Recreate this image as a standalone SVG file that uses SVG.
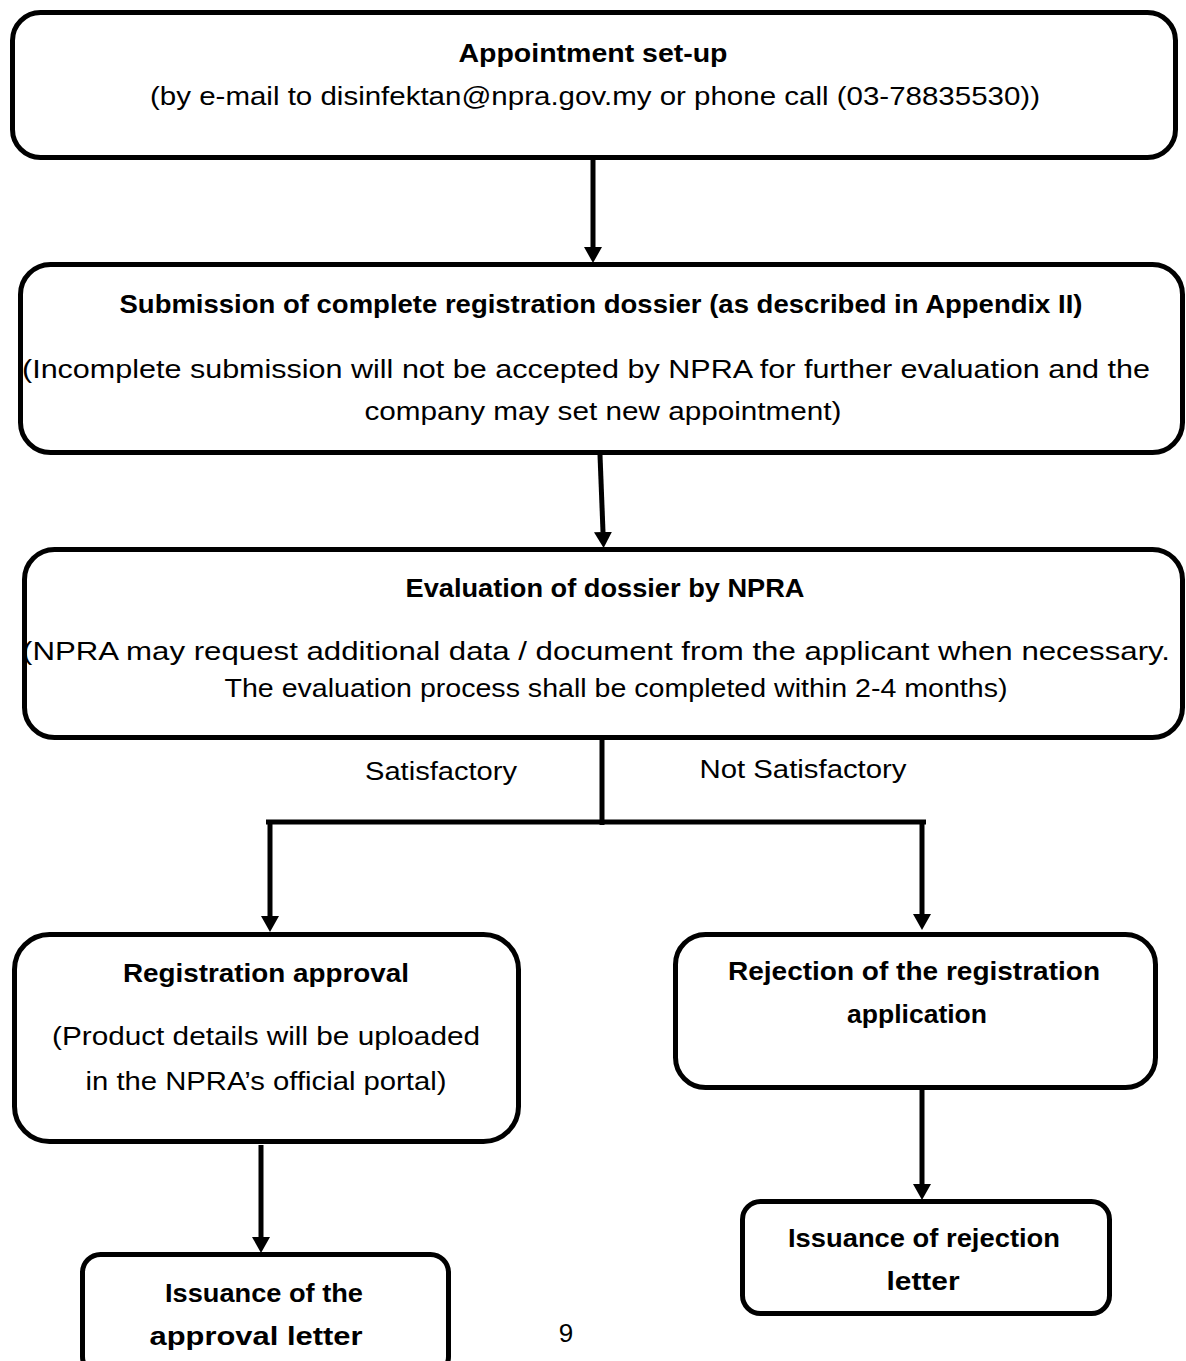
<svg xmlns="http://www.w3.org/2000/svg" width="1186" height="1361" viewBox="0 0 1186 1361">
<defs>
<style>
.box{fill:#fff;stroke:#000;stroke-width:5}
.con{fill:none;stroke:#000;stroke-width:5}
text{font-family:"Liberation Sans",Arial,sans-serif;font-size:26px;fill:#000;text-anchor:middle}
.b{font-weight:bold}
</style>
<marker id="ah" markerUnits="userSpaceOnUse" markerWidth="16" markerHeight="18" refX="0" refY="9" orient="auto">
<path d="M0,0 L16,9 L0,18 Z" fill="#000"/>
</marker>
</defs>
<rect width="1186" height="1361" fill="#fff"/>
<g id="connectors">
<line class="con" x1="593" y1="160" x2="593" y2="247" marker-end="url(#ah)"/>
<line class="con" x1="600" y1="455" x2="603" y2="532" marker-end="url(#ah)"/>
<line class="con" x1="602" y1="740" x2="602" y2="825"/>
<line class="con" x1="266" y1="822" x2="926" y2="822"/>
<line class="con" x1="270" y1="820" x2="270" y2="916" marker-end="url(#ah)"/>
<line class="con" x1="922" y1="820" x2="922" y2="914" marker-end="url(#ah)"/>
<line class="con" x1="261" y1="1145" x2="261" y2="1237" marker-end="url(#ah)"/>
<line class="con" x1="922" y1="1090" x2="922" y2="1184" marker-end="url(#ah)"/>
<text x="441" y="780" textLength="152" lengthAdjust="spacingAndGlyphs">Satisfactory</text>
<text x="803" y="778" textLength="207" lengthAdjust="spacingAndGlyphs">Not Satisfactory</text>
</g>
<g id="n1">
<rect class="box" x="12.5" y="12.5" width="1163" height="145" rx="28"/>
<text class="b" x="593" y="62" textLength="269" lengthAdjust="spacingAndGlyphs">Appointment set-up</text>
<text x="595" y="105" textLength="890" lengthAdjust="spacingAndGlyphs">(by e-mail to disinfektan@npra.gov.my or phone call (03-78835530))</text>
</g>
<g id="n2">
<rect class="box" x="20.5" y="264.5" width="1162" height="188" rx="30"/>
<text class="b" x="601" y="313" textLength="963" lengthAdjust="spacingAndGlyphs">Submission of complete registration dossier (as described in Appendix II)</text>
<text x="586" y="378" textLength="1128" lengthAdjust="spacingAndGlyphs">(Incomplete submission will not be accepted by NPRA for further evaluation and the</text>
<text x="603" y="420" textLength="477" lengthAdjust="spacingAndGlyphs">company may set new appointment)</text>
</g>
<g id="n3">
<rect class="box" x="24.5" y="549.5" width="1158" height="188" rx="30"/>
<text class="b" x="605" y="597" textLength="399" lengthAdjust="spacingAndGlyphs">Evaluation of dossier by NPRA</text>
<text x="596" y="660" textLength="1148" lengthAdjust="spacingAndGlyphs">(NPRA may request additional data / document from the applicant when necessary.</text>
<text x="616" y="697" textLength="783" lengthAdjust="spacingAndGlyphs">The evaluation process shall be completed within 2-4 months)</text>
</g>
<g id="n4">
<rect class="box" x="14.5" y="934.5" width="504" height="207" rx="35"/>
<text class="b" x="266" y="982" textLength="286" lengthAdjust="spacingAndGlyphs">Registration approval</text>
<text x="266" y="1045" textLength="428" lengthAdjust="spacingAndGlyphs">(Product details will be uploaded</text>
<text x="266" y="1090" textLength="361" lengthAdjust="spacingAndGlyphs">in the NPRA’s official portal)</text>
</g>
<g id="n5">
<rect class="box" x="675.5" y="934.5" width="480" height="153" rx="30"/>
<text class="b" x="914" y="980" textLength="372" lengthAdjust="spacingAndGlyphs">Rejection of the registration</text>
<text class="b" x="917" y="1023" textLength="140" lengthAdjust="spacingAndGlyphs">application</text>
</g>
<g id="n6">
<rect class="box" x="82.5" y="1254.5" width="366" height="120" rx="18"/>
<text class="b" x="264" y="1302" textLength="198" lengthAdjust="spacingAndGlyphs">Issuance of the</text>
<text class="b" x="256" y="1345" textLength="213" lengthAdjust="spacingAndGlyphs">approval letter</text>
</g>
<g id="n7">
<rect class="box" x="742.5" y="1201.5" width="367" height="112" rx="18"/>
<text class="b" x="924" y="1247" textLength="272" lengthAdjust="spacingAndGlyphs">Issuance of rejection</text>
<text class="b" x="923" y="1290" textLength="73" lengthAdjust="spacingAndGlyphs">letter</text>
</g>
<text x="566" y="1342">9</text>
</svg>
